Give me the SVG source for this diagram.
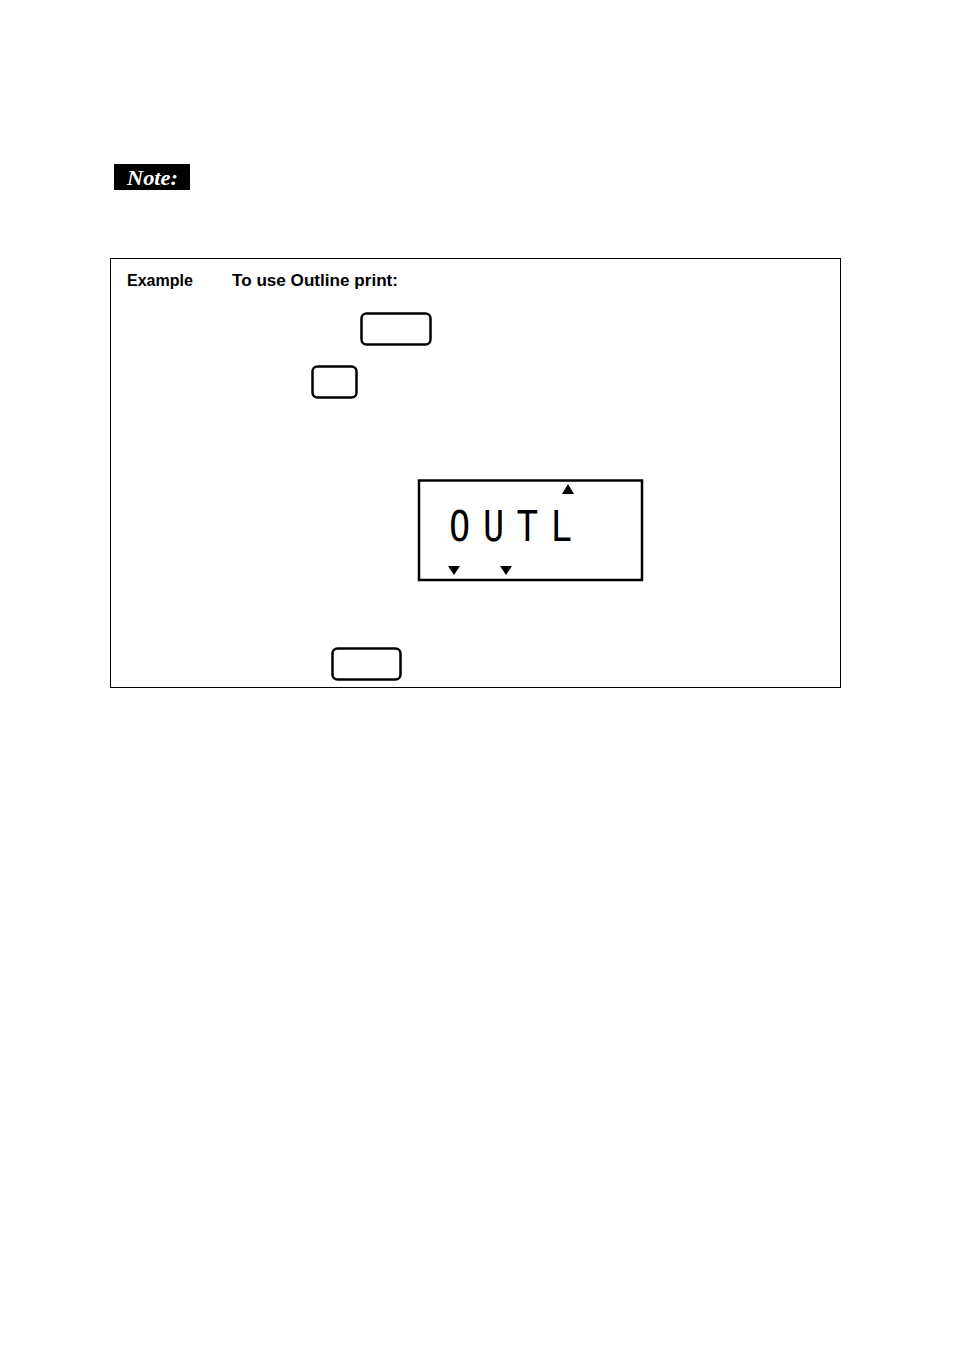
<svg xmlns="http://www.w3.org/2000/svg" width="954" height="1357" viewBox="0 0 954 1357">
<style>
.key{fill:#fff;stroke:#000;stroke-width:2.5}
.lbl{font-family:"Liberation Sans",Arial,sans-serif;font-weight:bold;font-size:17px;fill:#000}
.tri{fill:#000}
</style>
<rect width="954" height="1357" fill="#fff"/>
<g id="note">
<rect x="114" y="164" width="76" height="26" fill="#000"/>
<text x="127" y="185" font-family="Liberation Serif,serif" font-style="italic" font-weight="bold" font-size="20" fill="#fff" textLength="51" lengthAdjust="spacingAndGlyphs">Note:</text>
</g>
<g id="example-box">
<rect x="110.5" y="258.5" width="730" height="429" fill="none" stroke="#000" stroke-width="1"/>
<text class="lbl" x="127" y="286" textLength="66" lengthAdjust="spacingAndGlyphs">Example</text>
<text class="lbl" x="232" y="286" textLength="166" lengthAdjust="spacingAndGlyphs">To use Outline print:</text>
</g>
<g id="key1"><rect class="key" x="361.5" y="313.5" width="69" height="31" rx="5"/></g>
<g id="key2"><rect class="key" x="312.5" y="366.5" width="44" height="31" rx="5"/></g>
<g id="key3"><rect class="key" x="332.5" y="648.5" width="68" height="31" rx="5"/></g>
<g id="lcd">
<rect x="419" y="480.5" width="223" height="99.5" fill="#fff" stroke="#000" stroke-width="2.5"/>
<text x="449" y="541" font-family="DejaVu Sans Mono,monospace" font-size="43" fill="#000" letter-spacing="15.5" transform="translate(449 0) scale(0.82 1) translate(-449 0)">OUTL</text>
<polygon class="tri" points="562,494 574,494 568,484"/>
<polygon class="tri" points="448,566 460,566 454,575"/>
<polygon class="tri" points="500,566 512,566 506,575"/>
</g>
</svg>
